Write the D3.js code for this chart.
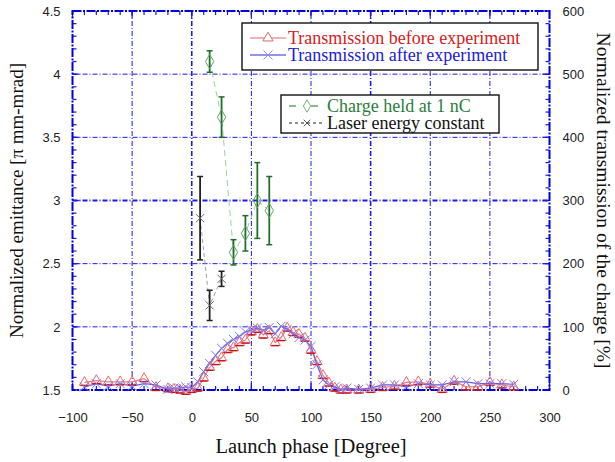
<!DOCTYPE html>
<html>
<head>
<meta charset="utf-8">
<script src="https://cdn.jsdelivr.net/npm/d3@7"></script>
<style>
  body { margin: 0; background: #fff; }
  svg { display: block; }
</style>
</head>
<body>
<div id="chart"></div>
<script>
// valores
const xTicks = [-100, -50, 0, 50, 100, 150, 200, 250, 300];
const yLeftTicks = [1.5, 2, 2.5, 3, 3.5, 4, 4.5];
const yRightTicks = [0, 100, 200, 300, 400, 500, 600];

// transmision antes del experimento (eje derecho, %)
const phaseBefore = [-90, -80, -70, -60, -50, -40, -30, -20, -15, -10, -5, 0, 5, 10, 15, 20, 25, 30, 35, 40, 45, 50, 55, 60, 65, 70, 75, 80, 85, 90, 95, 100, 105, 110, 115, 120, 125, 130, 140, 150, 160, 170, 180, 190, 200, 210, 220, 230, 240, 250, 260, 270];
const transBefore = [12, 15, 13, 13, 13, 18, 4, 2, 1, 0, -2, 1, 3, 19, 36, 45, 51, 64, 67, 75, 79, 92, 96, 87, 94, 75, 83, 98, 91, 88, 82, 63, 45, 23, 11, 3, 0, 0, 0, 1, 4, 6, 12, 13, 9, 1, 14, 5, 5, 12, 8, 5];

// transmision despues del experimento
const phaseAfter = [-90, -80, -70, -60, -50, -40, -30, -20, -15, -10, -5, 0, 5, 10, 15, 20, 25, 30, 35, 40, 45, 50, 55, 60, 65, 70, 75, 80, 85, 90, 95, 100, 105, 110, 115, 120, 125, 130, 140, 150, 160, 170, 180, 190, 200, 210, 220, 230, 240, 250, 260, 270];
const transAfter = [5, 10, 6, 10, 6, 10, 8, 1, 3, 3, 5, 4, 13, 29, 42, 55, 66, 74, 80, 85, 92, 95, 98, 94, 99, 89, 101, 96, 89, 83, 79, 69, 40, 16, 8, 5, 1, 3, 1, 3, 8, 8, 5, 10, 8, 8, 13, 13, 10, 10, 10, 9];

// emitancia con carga fija (eje izquierdo)
const chargePhase = [15, 25, 35, 45, 55, 65];
const chargeEmit = [4.10, 3.66, 2.59, 2.74, 3.00, 2.92];
const chargeErr = [0.085, 0.16, 0.10, 0.14, 0.30, 0.27];

// emitancia con energia laser constante
const laserPhase = [7, 15, 25];
const laserEmit = [2.86, 2.17, 2.38];
const laserErr = [0.33, 0.12, 0.06];

const W = 615, H = 462;
const L = 72.5, R = 549.5, T = 11, B = 390;

const svg = d3.select("#chart").append("svg")
  .attr("width", W).attr("height", H);

const x = d3.scaleLinear().domain([-100, 300]).range([L, R]);
const yL = d3.scaleLinear().domain([1.5, 4.5]).range([B, T]);
const yR = d3.scaleLinear().domain([0, 600]).range([B, T]);

const gridColor = "#1a1ae6";
const sans = "'Liberation Sans', Arial, sans-serif";
const serif = "'Liberation Serif', 'Times New Roman', serif";

// Rejilla
const grid = svg.append("g");
grid.selectAll("line.gx")
  .data(xTicks.slice(1, -1))
  .enter().append("line")
    .attr("x1", d => x(d)).attr("x2", d => x(d))
    .attr("y1", T).attr("y2", B)
    .style("stroke", gridColor)
    .style("stroke-width", d => (d === 0 || d === 150) ? 1.6 : 1)
    .style("stroke-dasharray", "5,2,1,2");
grid.selectAll("line.gy")
  .data(yLeftTicks.slice(1, -1))
  .enter().append("line")
    .attr("x1", L).attr("x2", R)
    .attr("y1", d => yL(d)).attr("y2", d => yL(d))
    .style("stroke", gridColor)
    .style("stroke-width", d => d === 3 ? 1.8 : 1)
    .style("stroke-dasharray", "5,2,1,2");

// Marcas menores y mayores hacia dentro
const bottomMinor = d3.range(-100, 301, 10);
const leftMinor = d3.range(15, 46).map(d => d / 10);
const rightMinor = d3.range(0, 601, 20);

function ticks(g, vals, pos, horiz, dir) {
  g.selectAll(null).data(vals).enter().append("line")
    .attr("x1", d => horiz ? pos(d) : dir.x)
    .attr("x2", d => horiz ? pos(d) : dir.x + dir.len)
    .attr("y1", d => horiz ? dir.y : pos(d))
    .attr("y2", d => horiz ? dir.y + dir.len : pos(d))
    .style("stroke", gridColor)
    .style("stroke-width", 1.2);
}
const ticksG = svg.append("g");
ticks(ticksG, bottomMinor, x, true, { y: B, len: -4 });
ticks(ticksG, bottomMinor, x, true, { y: T, len: 4 });
ticks(ticksG, leftMinor, yL, false, { x: L, len: 4 });
ticks(ticksG, rightMinor, yR, false, { x: R, len: -4 });
ticks(ticksG, xTicks, x, true, { y: B, len: -7 });
ticks(ticksG, xTicks, x, true, { y: T, len: 7 });
ticks(ticksG, yLeftTicks, yL, false, { x: L, len: 7 });
ticks(ticksG, yRightTicks, yR, false, { x: R, len: -7 });

// Etiquetas de ejes via d3.axis (solo texto)
const axB = svg.append("g").attr("transform", `translate(0,${B})`)
  .call(d3.axisBottom(x).tickValues(xTicks).tickSize(0).tickPadding(23));
const axL = svg.append("g").attr("transform", `translate(${L},0)`)
  .call(d3.axisLeft(yL).tickValues(yLeftTicks).tickSize(0).tickPadding(12).tickFormat(d3.format("")));
const axR = svg.append("g").attr("transform", `translate(${R},0)`)
  .call(d3.axisRight(yR).tickValues(yRightTicks).tickSize(0).tickPadding(13));
[axB, axL, axR].forEach(a => {
  a.select(".domain").remove();
  a.selectAll("text")
    .style("font-family", sans)
    .style("font-size", "13px")
    .style("fill", "#222");
});

// Marco
svg.append("rect")
  .attr("x", L).attr("y", T)
  .attr("width", R - L).attr("height", B - T)
  .style("fill", "none")
  .style("stroke", "#0000e0")
  .style("stroke-width", 2)
  .style("stroke-dasharray", "9,1.5,2,1.5");

// Series de transmision
const before = phaseBefore.map((p, i) => ({ x: p, y: transBefore[i] }));
const after = phaseAfter.map((p, i) => ({ x: p, y: transAfter[i] }));
const lineR = d3.line().x(d => x(d.x)).y(d => yR(d.y));

svg.append("path").datum(before)
  .attr("d", lineR)
  .style("fill", "none").style("stroke", "#f07a7a").style("stroke-width", 1.2);
svg.append("path").datum(after)
  .attr("d", lineR)
  .style("fill", "none").style("stroke", "#5a5af0").style("stroke-width", 1.2);

const tri = d3.symbol().type(d3.symbolTriangle).size(45);
const redG = svg.append("g");
redG.selectAll("path")
  .data(before)
  .enter().append("path")
    .attr("transform", d => `translate(${x(d.x)},${yR(d.y)})`)
    .attr("d", tri)
    .style("fill", "none")
    .style("stroke", "#f06868")
    .style("stroke-width", 1);
redG.selectAll("line")
  .data(before)
  .enter().append("line")
    .attr("x1", d => x(d.x) - 4).attr("x2", d => x(d.x) + 4)
    .attr("y1", d => yR(d.y) + 3).attr("y2", d => yR(d.y) + 3)
    .style("stroke", "#cc1111").style("stroke-width", 1.4);

const cross = d3.symbol().type(d3.symbolX).size(55);
svg.append("g").selectAll("path")
  .data(after)
  .enter().append("path")
    .attr("transform", d => `translate(${x(d.x)},${yR(d.y)})`)
    .attr("d", cross)
    .style("fill", "none")
    .style("stroke", "#7b7bf5")
    .style("stroke-width", 1);

// Emitancia con barras de error
function errorSeries(phase, emit, err, opt) {
  const pts = phase.map((p, i) => ({ x: p, y: emit[i], e: err[i] }));
  const g = svg.append("g");
  g.append("path").datum(pts)
    .attr("d", d3.line().x(d => x(d.x)).y(d => yL(d.y)))
    .style("fill", "none")
    .style("stroke", opt.lineColor)
    .style("stroke-width", 1)
    .style("stroke-dasharray", opt.dash);
  const bars = g.selectAll("g.bar").data(pts).enter().append("g");
  bars.append("line")
    .attr("x1", d => x(d.x)).attr("x2", d => x(d.x))
    .attr("y1", d => yL(d.y + d.e)).attr("y2", d => yL(d.y - d.e))
    .style("stroke", opt.barColor).style("stroke-width", 1.8);
  [1, -1].forEach(s => {
    bars.append("line")
      .attr("x1", d => x(d.x) - 3).attr("x2", d => x(d.x) + 3)
      .attr("y1", d => yL(d.y + s * d.e)).attr("y2", d => yL(d.y + s * d.e))
      .style("stroke", opt.barColor).style("stroke-width", 1.5);
  });
  bars.append("path")
    .attr("transform", d => `translate(${x(d.x)},${yL(d.y)})`)
    .attr("d", opt.symbol)
    .style("fill", "none")
    .style("stroke", opt.markColor)
    .style("stroke-width", 1);
}
errorSeries(chargePhase, chargeEmit, chargeErr, {
  lineColor: "#9fcf9f", dash: "6,4", barColor: "#1f6e2c", markColor: "#5fa566",
  symbol: d3.symbol().type(d3.symbolDiamond).size(60)
});
errorSeries(laserPhase, laserEmit, laserErr, {
  lineColor: "#a0a0a0", dash: "4,3", barColor: "#222", markColor: "#666",
  symbol: d3.symbol().type(d3.symbolX).size(45)
});

// Leyendas
function legend(box, rows) {
  const g = svg.append("g");
  g.append("rect")
    .attr("x", box.x).attr("y", box.y).attr("width", box.w).attr("height", box.h)
    .style("fill", "#fff").style("stroke", "#111").style("stroke-width", 1.4);
  rows.forEach((r, i) => {
    const cy = box.y + box.pad + i * box.step;
    g.append("line")
      .attr("x1", box.x + 8).attr("x2", box.x + 44)
      .attr("y1", cy).attr("y2", cy)
      .style("stroke", r.line).style("stroke-width", r.lw || 1.2)
      .style("stroke-dasharray", r.dash || null);
    g.append("path")
      .attr("transform", `translate(${box.x + 26},${cy})`)
      .attr("d", r.symbol)
      .style("fill", "#fff").style("stroke", r.mark).style("stroke-width", 1);
    g.append("text")
      .attr("x", box.x + 46).attr("y", cy + 6)
      .style("font-family", serif).style("font-size", "18px")
      .style("fill", r.color)
      .text(r.label);
  });
}
legend({ x: 242, y: 23, w: 296, h: 47, pad: 15, step: 17 }, [
  { label: "Transmission before experiment", color: "#d42020", line: "#e06a6a", mark: "#e06a6a",
    symbol: d3.symbol().type(d3.symbolTriangle).size(45) },
  { label: "Transmission after experiment", color: "#2020d8", line: "#2b2bd8", mark: "#8a8af5",
    symbol: d3.symbol().type(d3.symbolX).size(55) }
]);
legend({ x: 281, y: 95, w: 218, h: 38, pad: 11, step: 17 }, [
  { label: "Charge held at 1 nC", color: "#2a7d3a", line: "#5fa566", mark: "#7ab77f", dash: "7,7,1,7", lw: 1.6,
    symbol: d3.symbol().type(d3.symbolDiamond).size(45) },
  { label: "Laser energy constant", color: "#111", line: "#222", mark: "#555", dash: "3,3",
    symbol: d3.symbol().type(d3.symbolX).size(30) }
]);

// Titulos de ejes
svg.append("text")
  .attr("x", (L + R) / 2).attr("y", 453)
  .attr("text-anchor", "middle")
  .style("font-family", serif).style("font-size", "20.5px").style("fill", "#111")
  .text("Launch phase [Degree]");
svg.append("text")
  .attr("transform", `translate(23,${(T + B) / 2}) rotate(-90)`)
  .attr("text-anchor", "middle")
  .style("font-family", serif).style("font-size", "19px").style("fill", "#111")
  .text("Normalized emittance [π mm-mrad]");
svg.append("text")
  .attr("transform", `translate(597,${(T + B) / 2}) rotate(90)`)
  .attr("text-anchor", "middle")
  .style("font-family", serif).style("font-size", "19.5px").style("fill", "#111")
  .text("Normalized transmission of the charge [%]");
</script>
</body>
</html>
